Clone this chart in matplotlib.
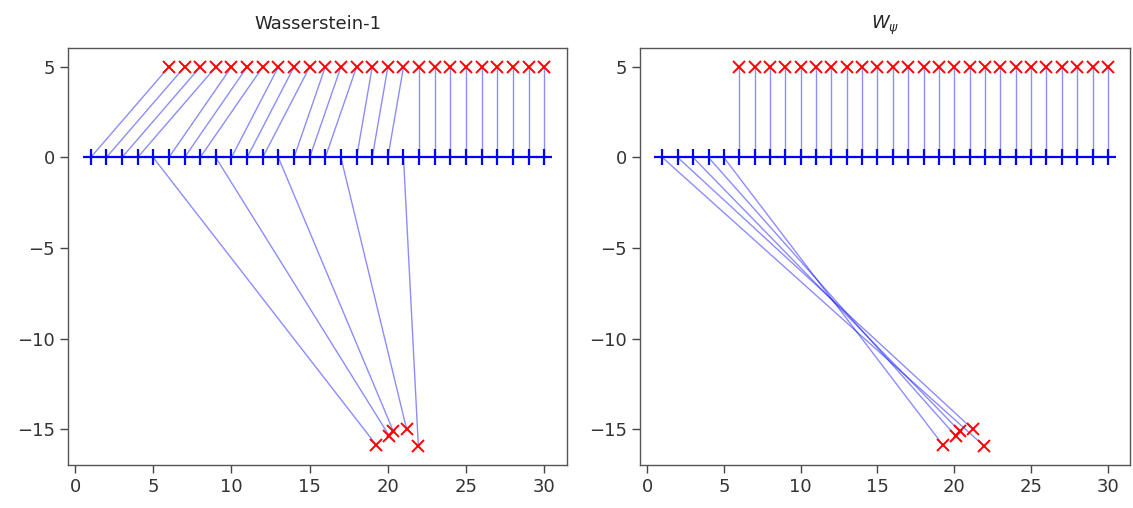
import numpy as np
import matplotlib
matplotlib.use("Agg")
import matplotlib.pyplot as plt

# source points (blue +)
src_x = list(range(1, 31))
src_y = [0] * 30
# target points (red x): 25 on the line y=5, plus 5 outliers
tgt_x = list(range(6, 31)) + [19.25, 20.1, 20.35, 21.2, 21.95]
tgt_y = [5] * 25 + [-15.86, -15.38, -15.11, -15.0, -15.93]

# matchings: source index -> target index
# Wasserstein-1
w1_src_top = [i for i in range(1, 31) if i not in (5, 9, 13, 17, 21)]
w1_pairs = [(s, 6 + k) for k, s in enumerate(w1_src_top)]
w1_out = [(5, 0), (9, 1), (13, 2), (17, 3), (21, 4)]
# W_psi
wp_pairs = [(s, s) for s in range(6, 31)]
wp_out = [(1, 4), (2, 3), (3, 2), (4, 1), (5, 0)]

titles = ["Wasserstein-1", r"$W_\psi$"]

plt.rcParams['font.family'] = ['DejaVu Sans']
fig = plt.figure(figsize=(11.33, 5.08), dpi=100)
ax1 = fig.add_axes([0.060, 0.0846, 0.4404, 0.821])
ax2 = fig.add_axes([0.565, 0.0846, 0.4325, 0.821])

out_x = tgt_x[25:]
out_y = tgt_y[25:]

for ax, pairs, outs, title in [(ax1, w1_pairs, w1_out, titles[0]),
                               (ax2, wp_pairs, wp_out, titles[1])]:
    for s, t in pairs:
        ax.plot([s, t], [0, 5], color='b', alpha=0.45, lw=1.0, zorder=1)
    for s, o in outs:
        ax.plot([s, out_x[o]], [0, out_y[o]], color='b', alpha=0.45, lw=1.0, zorder=1)
    ax.plot(src_x, src_y, '+', color='b', ms=12, mew=1.6, zorder=3)
    ax.plot(tgt_x, tgt_y, 'x', color='r', ms=9, mew=1.4, zorder=3)
    ax.set_title(title, fontsize=13, color='#262626', pad=14)
    ax.set_xticks([0, 5, 10, 15, 20, 25, 30])
    ax.set_yticks([-15, -10, -5, 0, 5])
    ax.tick_params(labelsize=13, colors='#444444', labelcolor='#333333', length=6, width=1)
    for sp in ax.spines.values():
        sp.set_color('#555555')
        sp.set_linewidth(1.0)

fig.savefig("out.png", dpi=100)
